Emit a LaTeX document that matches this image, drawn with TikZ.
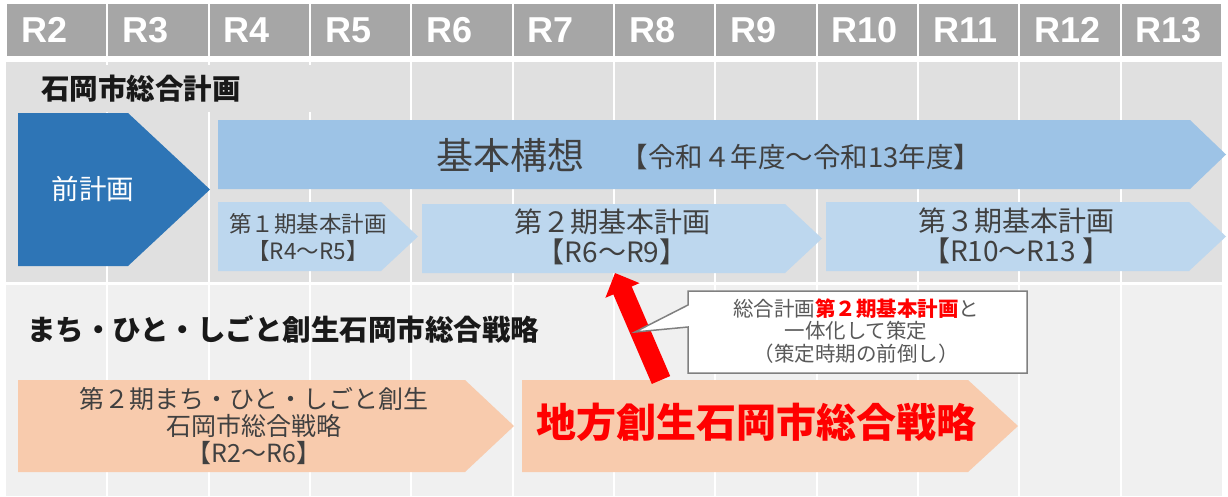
\documentclass[tikz,border=0pt]{standalone}
\usepackage{fontspec}
\setmainfont{Liberation Sans}
\newfontfamily\jp{Noto Sans CJK JP}
\usetikzlibrary{arrows.meta}
\definecolor{hdr}{HTML}{A6A6A6}
\definecolor{secA}{HTML}{E0E0E0}
\definecolor{secB}{HTML}{F0F0F0}
\definecolor{darkblue}{HTML}{2E75B6}
\definecolor{midblue}{HTML}{9DC3E6}
\definecolor{lightblue}{HTML}{BDD7EE}
\definecolor{peach}{HTML}{F8CBAD}
\definecolor{txt}{HTML}{404040}
\definecolor{calltxt}{HTML}{595959}
\definecolor{callline}{HTML}{808080}
\definecolor{redc}{HTML}{FF0000}
\tikzset{
  hdrtext/.style={text=white, anchor=west, font=\fontsize{36}{40}\selectfont\bfseries, inner sep=0pt},
  sectitle/.style={anchor=west, text=black!90, font=\jp\fontsize{28.5}{30}\selectfont\bfseries, inner sep=0pt},
  shapetext/.style={text=txt, align=center, inner sep=0pt},
  gridline/.style={white, line width=2pt},
}
\begin{document}
\begin{tikzpicture}[x=1pt,y=-1pt]
\useasboundingbox (0,0) rectangle (1228,496);
\fill[white] (0,0) rectangle (1228,496);
% header
\foreach \i [count=\k from 0] in {2,...,13} {
  \fill[hdr] ({6+101.33*\k+1},4) rectangle ({6+101.33*(\k+1)-1},56);
  \node[hdrtext] (h\i) at ({6+101.33*\k+15},30) {R\i};
}
% section backgrounds
\fill[secA] (6,62) rectangle (1222,282);
\fill[secB] (6,285) rectangle (1222,496);
\foreach \k in {1,...,11} {
  \draw[gridline] ({6+101.33*\k},62) -- ({6+101.33*\k},496);
}
\fill[secA] (8,65) rectangle (400,112);
% titles
\node[sectitle] (t1) at (41,89) {石岡市総合計画};
\node[sectitle] (t2) at (27,329) {まち・ひと・しごと創生石岡市総合戦略};
% previous plan
\fill[darkblue] (18,113) -- (128,113) -- (210,189.5) -- (128,266) -- (18,266) -- cycle;
\node[text=white, font=\jp\fontsize{27.5}{30}\selectfont, inner sep=0pt] (prev) at (93,189) {前計画};
% basic concept
\fill[midblue] (218,120) -- (1190,120) -- (1226,154.5) -- (1190,189) -- (218,189) -- cycle;
\node[shapetext, font=\jp\fontsize{37}{40}\selectfont] (kihon) at (510,155) {基本構想};
\node[shapetext, font=\jp\fontsize{27.5}{30}\selectfont] (kikan) at (801,157) {【令和４年度～令和13年度】};
% plans
\fill[lightblue] (218,202) -- (381,202) -- (418,236.5) -- (381,271) -- (218,271) -- cycle;
\node[shapetext, font=\jp\fontsize{22.5}{27}\selectfont] (p1) at (308,237) {第１期基本計画\\【R4～R5】};
\fill[lightblue] (422,204) -- (785,204) -- (822,238.5) -- (785,273) -- (422,273) -- cycle;
\node[shapetext, font=\jp\fontsize{28}{30}\selectfont] (p2) at (612,237) {第２期基本計画\\【R6～R9】};
\fill[lightblue] (826,202) -- (1189,202) -- (1226,236.5) -- (1189,271) -- (826,271) -- cycle;
\node[shapetext, font=\jp\fontsize{28}{30}\selectfont] (p3) at (1016,236) {第３期基本計画\\【R10～R13 】};
% strategies
\fill[peach] (18,380) -- (465,380) -- (514,426) -- (465,472) -- (18,472) -- cycle;
\node[shapetext, font=\jp\fontsize{25}{27}\selectfont] (s1) at (254,426) {第２期まち・ひと・しごと創生\\石岡市総合戦略\\【R2～R6】};
\fill[peach] (522,380) -- (968,380) -- (1018,426) -- (968,472) -- (522,472) -- cycle;
\node[shapetext, text=redc, font=\jp\fontsize{40}{44}\selectfont\bfseries] (s2) at (756,422) {地方創生石岡市総合戦略};
% red arrow
\coordinate (rtail) at (661,380);
\coordinate (rtip) at (615,273);
\draw[redc, line width=20pt, -{Triangle[width=36pt,length=19pt]}] (rtail) -- (rtip);
% callout
\fill[white, draw=callline, line width=1.5pt] (688,291) -- (1027,291) -- (1027,373) -- (688,373) -- (688,327) -- (635,332) -- (688,305) -- cycle;
\node[text=calltxt, align=center, inner sep=0pt, font=\jp\fontsize{20.5}{22.5}\selectfont] (call) at (856,331) {総合計画{\color{redc}\bfseries 第２期基本計画}と\\一体化して策定\\（策定時期の前倒し）};
\end{tikzpicture}
\end{document}
